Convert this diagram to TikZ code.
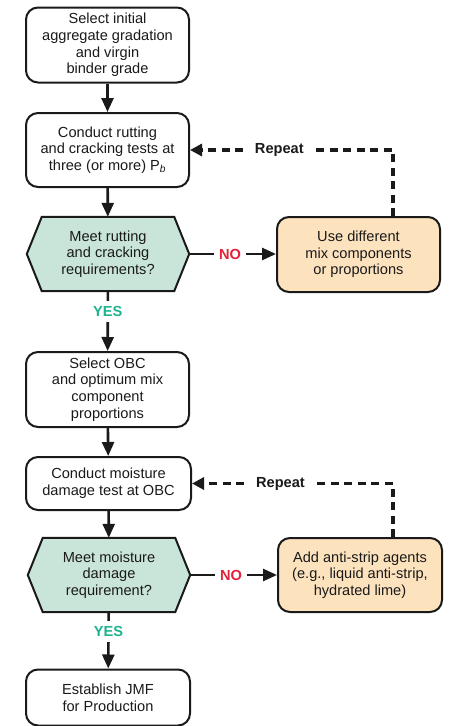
\documentclass[tikz,border=0pt]{standalone}
\usepackage{fontspec}
\setmainfont{Liberation Sans}
\usetikzlibrary{arrows.meta,calc,backgrounds}

\definecolor{ink}{HTML}{1A1A1A}
\definecolor{decfill}{HTML}{C9E5D9}
\definecolor{actfill}{HTML}{FDE2BE}
\definecolor{nored}{HTML}{E4203A}
\definecolor{yesgreen}{HTML}{1DB38F}

\tikzset{
  txt/.style={font=\fontsize{14.6}{16.7}\selectfont, text=ink, align=center},
  stepbox/.style={txt, draw=ink, line width=2pt, rounded corners=12pt,
    fill=white, inner sep=0pt, minimum width=163pt, minimum height=75pt},
  actbox/.style={stepbox, fill=actfill},
  hexnode/.style={txt, inner sep=0pt, minimum width=162pt, minimum height=74pt},
  hexline/.style={draw=ink, line width=2pt, fill=decfill, line join=miter},
  arr/.style={draw=ink, line width=2.6pt, -{Triangle[length=14pt,width=12pt]}},
  loopback/.style={draw=ink, line width=3.2pt, dash pattern=on 8pt off 5.5pt,
    -{Triangle[length=12pt,width=12pt]}},
  lbl/.style={font=\fontsize{14.6}{16}\selectfont\bfseries, fill=white, inner sep=0pt},
  yeslbl/.style={lbl, text=yesgreen, inner ysep=5pt, inner xsep=3pt},
  nolbl/.style={lbl, text=nored, inner xsep=5pt, inner ysep=3pt},
  replbl/.style={lbl, text=ink, inner xsep=7pt, inner ysep=3pt}
}

% hexagonal decision outline drawn behind a named node
\newcommand{\hexoutline}[1]{%
  \begin{scope}[on background layer]
    \path[hexline] (#1.west) -- ($(#1.north west)+(15,0)$)
      -- ($(#1.north east)+(-15,0)$) -- (#1.east)
      -- ($(#1.south east)+(-15,0)$) -- ($(#1.south west)+(15,0)$) -- cycle;
  \end{scope}}

\begin{document}
\begin{tikzpicture}[x=1pt,y=-1pt]
\useasboundingbox (0,0) rectangle (448,726);

% main column
\node[stepbox] (b1) at (107.5,45) {Select initial\\aggregate gradation\\and virgin\\binder grade};
\node[stepbox, minimum height=74pt] (b2) at (107.5,150) {Conduct rutting\\and cracking tests at\\three (or more) P\textsubscript{\textit{b}}};
\node[hexnode] (h1) at (108,254) {Meet rutting\\and cracking\\requirements?};
\hexoutline{h1}
\node[stepbox] (b3) at (107.5,389.5) {Select OBC\\and optimum mix\\component\\proportions};
\node[stepbox, minimum width=165pt, minimum height=53pt] (b4) at (108.5,483.5) {Conduct moisture\\damage test at OBC};
\node[hexnode] (h2) at (109,575) {Meet moisture\\damage\\requirement?};
\hexoutline{h2}
\node[stepbox, minimum width=164pt, minimum height=56pt] (b5) at (108,697.5) {Establish JMF\\for Production};

% corrective actions
\node[actbox] (o1) at (358.5,254.5) {Use different\\mix components\\or proportions};
\node[actbox, minimum width=164pt, minimum height=74pt] (o2) at (360,575) {Add anti-strip agents\\(e.g., liquid anti-strip,\\hydrated lime)};

% forward flow
\draw[arr] (b1) -- (b2);
\draw[arr] (b2) -- (h1);
\draw[arr] (h1) -- node[yeslbl, pos=0.34] {YES} (b3);
\draw[arr] (b3) -- (b4);
\draw[arr] (b4) -- (h2);
\draw[arr] (h2) -- node[yeslbl, pos=0.34] {YES} (b5);
\draw[arr] (h1.east) -- node[nolbl, pos=0.47] {NO} (h1.east -| o1.west);
\draw[arr] (h2.east) -- node[nolbl, pos=0.47] {NO} (h2.east -| o2.west);

% repeat loops
\coordinate (r1) at ($(o1.north)+(34.5,0)$);
\coordinate (r2) at ($(o2.north)+(33,0)$);
\draw[loopback] (r1) |- node[replbl, pos=0.78] {Repeat} (b2.east);
\draw[loopback] (r2) |- node[replbl, pos=0.78] {Repeat} (b4.east);
\end{tikzpicture}
\end{document}
